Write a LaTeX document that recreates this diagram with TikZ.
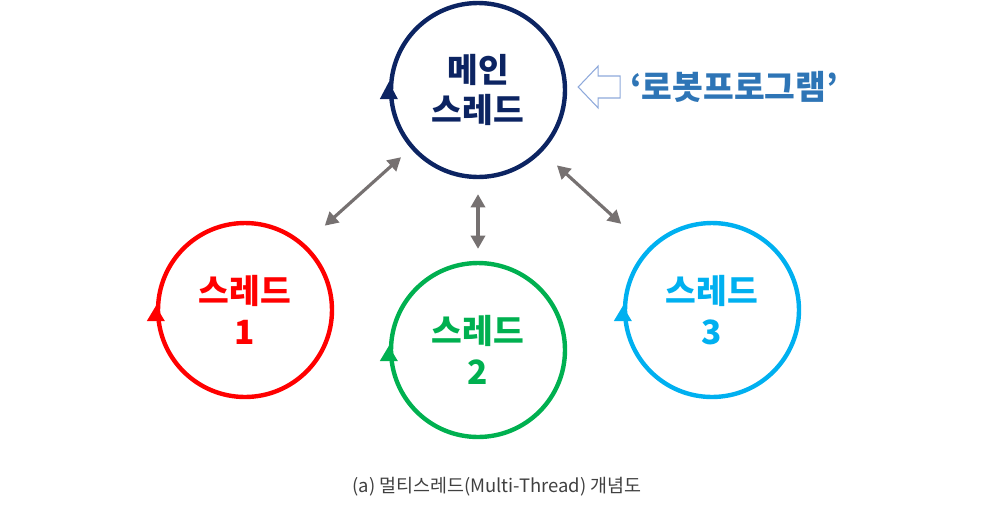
\documentclass[tikz,border=0pt]{standalone}
\usepackage{fontspec}
\setmainfont{Noto Sans CJK KR}
\usetikzlibrary{arrows.meta,positioning}

\definecolor{mainnavy}{HTML}{0C2462}
\definecolor{threadred}{HTML}{FF0000}
\definecolor{threadgreen}{HTML}{00B050}
\definecolor{threadcyan}{HTML}{00B0F0}
\definecolor{linkgray}{HTML}{767171}
\definecolor{hintblue}{HTML}{8EA9DB}
\definecolor{robotblue}{HTML}{2E75B6}

\begin{document}
\begin{tikzpicture}
[
    x=0.02cm, y=-0.02cm,
    thread/.style={circle, draw=#1, text=#1, line width=2.5pt, minimum size=3.48cm,
        font=\fontsize{19}{23}\selectfont\bfseries, align=center},
    link/.style={draw=linkgray, line width=1.8pt,
        {Triangle[length=7.5pt,width=8pt]}-{Triangle[length=7.5pt,width=8pt]}},
    hint/.style={draw=hintblue, line width=0.6pt, fill=white},
    robot/.style={text=robotblue, font=\fontsize{19}{23}\selectfont\bfseries, inner sep=0pt},
    caption/.style={text=black!75, font=\fontsize{10.5}{12}\selectfont, inner sep=0pt},
]
\useasboundingbox (0,0) rectangle (1000,528);

% threads
\node [thread=mainnavy] (main) at (478,90) {메인\\스레드};
\node [thread=threadred] (t1) at (245,310) {스레드\\1};
\node [thread=threadgreen] (t2) at (478,350) {스레드\\2};
\node [thread=threadcyan] (t3) at (712,310) {스레드\\3};

% direction marks
\fill [mainnavy] (main.west) ++(0,-8) -- ++(9,17) -- ++(-18,0) -- cycle;
\fill [threadred] (t1.west) ++(0,-4) -- ++(9,15) -- ++(-18,0) -- cycle;
\fill [threadgreen] (t2.west) ++(0,-4) -- ++(9,15) -- ++(-18,0) -- cycle;
\fill [threadcyan] (t3.west) ++(0,-4) -- ++(9,15) -- ++(-18,0) -- cycle;

% links
\draw [link, shorten <=0.54cm, shorten >=0.26cm] (t1.48) -- (main.221);
\draw [link, shorten <=0.3cm, shorten >=0.24cm] (main.south) -- (t2.north);
\draw [link, shorten <=0.4cm, shorten >=0.72cm] (main.316) -- (t3.136);

% robot program
\draw [hint] (main.east) ++(11,-3) coordinate (tip)
    -- ++(20,-21) -- ++(0,10) -- ++(22,0) coordinate (tail)
    -- ++(0,22) -- ++(-22,0) -- ++(0,10) -- cycle;
\node [robot] (robot) at (734,87) {‘로봇프로그램’};

\node [caption] (cap) at (497,487) {(a) 멀티스레드(Multi-Thread) 개념도};
\end{tikzpicture}
\end{document}
